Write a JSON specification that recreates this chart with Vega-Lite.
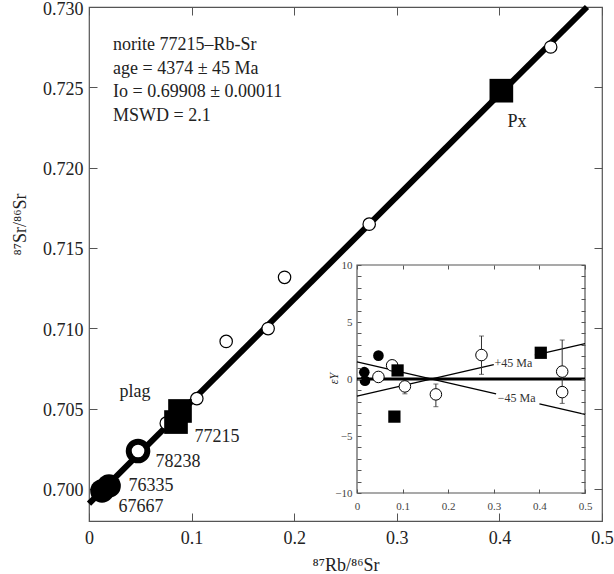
{
  "$schema": "https://vega.github.io/schema/vega-lite/v6.json",
  "width": 513,
  "height": 514,
  "autosize": {"type": "none"},
  "padding": {"left": 89, "top": 7, "right": 12, "bottom": 53},
  "background": "white",
  "config": {
    "view": {"stroke": "#555", "strokeWidth": 1.2},
    "axis": {"domain": false, "grid": false, "labelFlush": false, "tickColor": "#555", "labelFont": "Liberation Serif", "titleFont": "Liberation Serif", "titleFontWeight": "normal", "labelColor": "#222", "titleColor": "#222"},
    "text": {"font": "Liberation Serif"}
  },
  "datasets": {
    "iso": [{"x": 0, "y": 0.69908}, {"x": 0.4854, "y": 0.730}],
    "openMain": [{"x": 0.0753, "y": 0.70409}, {"x": 0.1051, "y": 0.70562}, {"x": 0.1337, "y": 0.70918}, {"x": 0.1746, "y": 0.70998}, {"x": 0.1906, "y": 0.71317}, {"x": 0.2731, "y": 0.71648}, {"x": 0.450, "y": 0.72751}],
    "ring": [{"x": 0.0478, "y": 0.70236}],
    "wr": [{"x": 0.0127, "y": 0.69987}, {"x": 0.0195, "y": 0.70018}],
    "squares": [{"x": 0.0848, "y": 0.70416}, {"x": 0.0887, "y": 0.70485}, {"x": 0.4019, "y": 0.72479}],
    "labels": [{"x": 0.0448, "y": 0.70603, "t": "plag"}, {"x": 0.1248, "y": 0.70323, "t": "77215"}, {"x": 0.0867, "y": 0.70167, "t": "78238"}, {"x": 0.0604, "y": 0.70018, "t": "76335"}, {"x": 0.0507, "y": 0.69887, "t": "67667"}, {"x": 0.4171, "y": 0.72281, "t": "Px"}],
    "info": [{"x": 0.0234, "y": 0.72763, "t": "norite 77215–Rb-Sr"}, {"x": 0.0234, "y": 0.72614, "t": "age = 4374 ± 45 Ma"}, {"x": 0.0234, "y": 0.72471, "t": "Io = 0.69908 ± 0.00011"}, {"x": 0.0234, "y": 0.72321, "t": "MSWD = 2.1"}],
    "frame": [{"x": 0, "x2": 0.5, "y": -10, "y2": 10}],
    "zero": [{"x": 0, "x2": 0.5, "y": 0}],
    "mlines": [{"seg": "p1", "x": 0, "y": -1.5}, {"seg": "p1", "x": 0.30, "y": 1.26}, {"seg": "p2", "x": 0.39, "y": 2.09}, {"seg": "p2", "x": 0.5, "y": 3.1}, {"seg": "m1", "x": 0, "y": 1.5}, {"seg": "m1", "x": 0.305, "y": -1.3}, {"seg": "m2", "x": 0.40, "y": -2.18}, {"seg": "m2", "x": 0.5, "y": -3.1}],
    "err": [{"x": 0.105, "lo": -1.3, "hi": -0.3}, {"x": 0.173, "lo": -2.43, "hi": -0.44}, {"x": 0.273, "lo": 0.41, "hi": 3.77}, {"x": 0.45, "lo": -2.14, "hi": 3.42}],
    "caps": [{"x": 0.105, "y": -1.3}, {"x": 0.105, "y": -0.3}, {"x": 0.173, "y": -2.43}, {"x": 0.173, "y": -0.44}, {"x": 0.273, "y": 0.41}, {"x": 0.273, "y": 3.77}, {"x": 0.45, "y": -2.14}, {"x": 0.45, "y": 3.42}],
    "inFilled": [{"x": 0.016, "y": 0.6}, {"x": 0.0175, "y": -0.15}, {"x": 0.047, "y": 2.05}],
    "inOpen": [{"x": 0.047, "y": 0.18}, {"x": 0.077, "y": 1.2}, {"x": 0.105, "y": -0.65}, {"x": 0.173, "y": -1.35}, {"x": 0.273, "y": 2.1}, {"x": 0.45, "y": 0.65}, {"x": 0.45, "y": -1.15}],
    "inSq": [{"x": 0.089, "y": 0.75}, {"x": 0.082, "y": -3.3}, {"x": 0.403, "y": 2.3}],
    "inText": [{"x": 0.343, "y": 1.43, "t": "+45 Ma"}, {"x": 0.350, "y": -1.64, "t": "−45 Ma"}]
  },
  "layer": [
    {
      "layer": [
        {
          "data": {"name": "iso"},
          "mark": {"type": "line", "color": "black", "strokeWidth": 6, "strokeCap": "butt"},
          "encoding": {
            "x": {"field": "x", "type": "quantitative", "scale": {"domain": [0, 0.5], "nice": false, "zero": false},
              "axis": {"orient": "bottom", "values": [0, 0.1, 0.2, 0.3, 0.4, 0.5], "labelExpr": "datum.value == 0 ? '0' : format(datum.value, '.1f')", "ticks": false, "tickSize": 0, "labelFontSize": 18, "labelPadding": 8, "title": "⁸⁷Rb/⁸⁶Sr", "titleFontSize": 18, "titleY": 44, "titleBaseline": "middle"}},
            "y": {"field": "y", "type": "quantitative", "scale": {"domain": [0.698, 0.730], "nice": false, "zero": false},
              "axis": {"orient": "left", "values": [0.700, 0.705, 0.710, 0.715, 0.720, 0.725, 0.730], "format": ".3f", "ticks": false, "tickSize": 0, "labelFontSize": 18, "labelPadding": 6, "labelOffset": 2, "title": "⁸⁷Sr/⁸⁶Sr", "titleFontSize": 18, "titleX": -69, "titleY": 217, "titleBaseline": "middle"}}
          }
        },
        {
          "data": {"name": "iso"},
          "mark": {"type": "point", "opacity": 0},
          "encoding": {
            "x": {"field": "x", "type": "quantitative", "scale": {"domain": [0, 0.5], "nice": false, "zero": false},
              "axis": {"orient": "top", "values": [0, 0.1, 0.2, 0.3, 0.4, 0.5], "labels": false, "tickSize": -8, "title": null}},
            "y": {"field": "y", "type": "quantitative", "scale": {"domain": [0.698, 0.730], "nice": false, "zero": false},
              "axis": {"orient": "right", "values": [0.700, 0.705, 0.710, 0.715, 0.720, 0.725, 0.730], "labels": false, "tickSize": -8, "title": null}}
          }
        },
        {
          "data": {"name": "iso"},
          "mark": {"type": "point", "opacity": 0},
          "encoding": {
            "x": {"field": "x", "type": "quantitative", "scale": {"domain": [0, 0.5], "nice": false, "zero": false},
              "axis": {"orient": "bottom", "values": [0, 0.1, 0.2, 0.3, 0.4, 0.5], "labels": false, "tickSize": -8, "title": null}},
            "y": {"field": "y", "type": "quantitative", "scale": {"domain": [0.698, 0.730], "nice": false, "zero": false},
              "axis": {"orient": "left", "values": [0.700, 0.705, 0.710, 0.715, 0.720, 0.725, 0.730], "labels": false, "tickSize": -8, "title": null}}
          }
        },
        {
          "data": {"name": "openMain"},
          "mark": {"type": "point", "shape": "circle", "filled": true, "fill": "white", "stroke": "black", "strokeWidth": 1.2, "size": 154, "opacity": 1},
          "encoding": {
            "x": {"field": "x", "type": "quantitative", "scale": {"domain": [0, 0.5], "nice": false, "zero": false}, "axis": null},
            "y": {"field": "y", "type": "quantitative", "scale": {"domain": [0.698, 0.730], "nice": false, "zero": false}, "axis": null}
          }
        },
        {
          "data": {"name": "ring"},
          "mark": {"type": "point", "shape": "circle", "filled": true, "fill": "white", "stroke": "black", "strokeWidth": 6, "size": 346, "opacity": 1},
          "encoding": {
            "x": {"field": "x", "type": "quantitative", "scale": {"domain": [0, 0.5], "nice": false, "zero": false}, "axis": null},
            "y": {"field": "y", "type": "quantitative", "scale": {"domain": [0.698, 0.730], "nice": false, "zero": false}, "axis": null}
          }
        },
        {
          "data": {"name": "wr"},
          "mark": {"type": "point", "shape": "circle", "filled": true, "color": "black", "size": 560, "opacity": 1},
          "encoding": {
            "x": {"field": "x", "type": "quantitative", "scale": {"domain": [0, 0.5], "nice": false, "zero": false}, "axis": null},
            "y": {"field": "y", "type": "quantitative", "scale": {"domain": [0.698, 0.730], "nice": false, "zero": false}, "axis": null}
          }
        },
        {
          "data": {"name": "squares"},
          "mark": {"type": "point", "shape": "square", "filled": true, "color": "black", "size": 560, "opacity": 1},
          "encoding": {
            "x": {"field": "x", "type": "quantitative", "scale": {"domain": [0, 0.5], "nice": false, "zero": false}, "axis": null},
            "y": {"field": "y", "type": "quantitative", "scale": {"domain": [0.698, 0.730], "nice": false, "zero": false}, "axis": null}
          }
        },
        {
          "data": {"name": "labels"},
          "mark": {"type": "text", "fontSize": 18, "color": "#222", "align": "center", "baseline": "middle"},
          "encoding": {
            "x": {"field": "x", "type": "quantitative", "scale": {"domain": [0, 0.5], "nice": false, "zero": false}, "axis": null},
            "y": {"field": "y", "type": "quantitative", "scale": {"domain": [0.698, 0.730], "nice": false, "zero": false}, "axis": null},
            "text": {"field": "t"}
          }
        },
        {
          "data": {"name": "info"},
          "mark": {"type": "text", "fontSize": 18, "color": "#222", "align": "left", "baseline": "middle"},
          "encoding": {
            "x": {"field": "x", "type": "quantitative", "scale": {"domain": [0, 0.5], "nice": false, "zero": false}, "axis": null},
            "y": {"field": "y", "type": "quantitative", "scale": {"domain": [0.698, 0.730], "nice": false, "zero": false}, "axis": null},
            "text": {"field": "t"}
          }
        }
      ],
      "resolve": {"axis": {"x": "independent", "y": "independent"}}
    },
    {
      "layer": [
        {
          "data": {"name": "frame"},
          "mark": {"type": "rect", "fill": "white", "stroke": "#555", "strokeWidth": 1.2},
          "encoding": {
            "x": {"field": "x", "type": "quantitative", "scale": {"domain": [0, 0.5], "range": [268, 496], "nice": false, "zero": false},
              "axis": {"orient": "bottom", "offset": -28, "values": [0, 0.1, 0.2, 0.3, 0.4, 0.5], "labelExpr": "datum.value == 0 ? '0' : format(datum.value, '.1f')", "ticks": false, "tickSize": 0, "labelFontSize": 11, "labelPadding": 7, "labelColor": "#444", "title": null, "zindex": 2}},
            "x2": {"field": "x2"},
            "y": {"field": "y", "type": "quantitative", "scale": {"domain": [-10, 10], "range": [486, 258], "nice": false, "zero": false},
              "axis": {"orient": "left", "offset": -268, "values": [-10, -5, 0, 5, 10], "ticks": false, "tickSize": 0, "labelFontSize": 11, "labelPadding": 5, "labelColor": "#444", "title": "εY", "titleFontSize": 12, "titleFontStyle": "italic", "titleX": -24, "titleY": 371, "titleBaseline": "middle", "zindex": 2}},
            "y2": {"field": "y2"}
          }
        },
        {
          "data": {"name": "frame"},
          "mark": {"type": "point", "opacity": 0},
          "encoding": {
            "x": {"field": "x", "type": "quantitative", "scale": {"domain": [0, 0.5], "range": [268, 496], "nice": false, "zero": false},
              "axis": {"orient": "top", "offset": -258, "values": [0, 0.1, 0.2, 0.3, 0.4, 0.5], "labels": false, "tickSize": -4, "title": null, "zindex": 2}},
            "y": {"field": "y", "type": "quantitative", "scale": {"domain": [-10, 10], "range": [486, 258], "nice": false, "zero": false},
              "axis": {"orient": "right", "offset": -17, "values": [-10, -9, -8, -7, -6, -5, -4, -3, -2, -1, 0, 1, 2, 3, 4, 5, 6, 7, 8, 9, 10], "labels": false, "tickSize": -4, "title": null, "zindex": 2}}
          }
        },
        {
          "data": {"name": "frame"},
          "mark": {"type": "point", "opacity": 0},
          "encoding": {
            "x": {"field": "x", "type": "quantitative", "scale": {"domain": [0, 0.5], "range": [268, 496], "nice": false, "zero": false},
              "axis": {"orient": "bottom", "offset": -28, "values": [0, 0.1, 0.2, 0.3, 0.4, 0.5], "labels": false, "tickSize": -4, "title": null, "zindex": 2}},
            "y": {"field": "y", "type": "quantitative", "scale": {"domain": [-10, 10], "range": [486, 258], "nice": false, "zero": false},
              "axis": {"orient": "left", "offset": -268, "values": [-10, -9, -8, -7, -6, -5, -4, -3, -2, -1, 0, 1, 2, 3, 4, 5, 6, 7, 8, 9, 10], "labels": false, "tickSize": -4, "title": null, "zindex": 2}}
          }
        },
        {
          "data": {"name": "zero"},
          "mark": {"type": "rule", "color": "black", "strokeWidth": 3},
          "encoding": {
            "x": {"field": "x", "type": "quantitative", "scale": {"domain": [0, 0.5], "range": [268, 496], "nice": false, "zero": false}, "axis": null},
            "x2": {"field": "x2"},
            "y": {"field": "y", "type": "quantitative", "scale": {"domain": [-10, 10], "range": [486, 258], "nice": false, "zero": false}, "axis": null}
          }
        },
        {
          "data": {"name": "mlines"},
          "mark": {"type": "line", "color": "black", "strokeWidth": 1.3},
          "encoding": {
            "x": {"field": "x", "type": "quantitative", "scale": {"domain": [0, 0.5], "range": [268, 496], "nice": false, "zero": false}, "axis": null},
            "y": {"field": "y", "type": "quantitative", "scale": {"domain": [-10, 10], "range": [486, 258], "nice": false, "zero": false}, "axis": null},
            "detail": {"field": "seg"}
          }
        },
        {
          "data": {"name": "err"},
          "mark": {"type": "rule", "color": "#333", "strokeWidth": 1},
          "encoding": {
            "x": {"field": "x", "type": "quantitative", "scale": {"domain": [0, 0.5], "range": [268, 496], "nice": false, "zero": false}, "axis": null},
            "y": {"field": "lo", "type": "quantitative", "scale": {"domain": [-10, 10], "range": [486, 258], "nice": false, "zero": false}, "axis": null},
            "y2": {"field": "hi"}
          }
        },
        {
          "data": {"name": "caps"},
          "mark": {"type": "tick", "orient": "horizontal", "color": "#333", "size": 5, "thickness": 1},
          "encoding": {
            "x": {"field": "x", "type": "quantitative", "scale": {"domain": [0, 0.5], "range": [268, 496], "nice": false, "zero": false}, "axis": null},
            "y": {"field": "y", "type": "quantitative", "scale": {"domain": [-10, 10], "range": [486, 258], "nice": false, "zero": false}, "axis": null}
          }
        },
        {
          "data": {"name": "inOpen"},
          "mark": {"type": "point", "shape": "circle", "filled": true, "fill": "white", "stroke": "black", "strokeWidth": 1, "size": 133, "opacity": 1},
          "encoding": {
            "x": {"field": "x", "type": "quantitative", "scale": {"domain": [0, 0.5], "range": [268, 496], "nice": false, "zero": false}, "axis": null},
            "y": {"field": "y", "type": "quantitative", "scale": {"domain": [-10, 10], "range": [486, 258], "nice": false, "zero": false}, "axis": null}
          }
        },
        {
          "data": {"name": "inFilled"},
          "mark": {"type": "point", "shape": "circle", "filled": true, "color": "black", "size": 113, "opacity": 1},
          "encoding": {
            "x": {"field": "x", "type": "quantitative", "scale": {"domain": [0, 0.5], "range": [268, 496], "nice": false, "zero": false}, "axis": null},
            "y": {"field": "y", "type": "quantitative", "scale": {"domain": [-10, 10], "range": [486, 258], "nice": false, "zero": false}, "axis": null}
          }
        },
        {
          "data": {"name": "inSq"},
          "mark": {"type": "point", "shape": "square", "filled": true, "color": "black", "size": 150, "opacity": 1},
          "encoding": {
            "x": {"field": "x", "type": "quantitative", "scale": {"domain": [0, 0.5], "range": [268, 496], "nice": false, "zero": false}, "axis": null},
            "y": {"field": "y", "type": "quantitative", "scale": {"domain": [-10, 10], "range": [486, 258], "nice": false, "zero": false}, "axis": null}
          }
        },
        {
          "data": {"name": "inText"},
          "mark": {"type": "text", "fontSize": 12, "color": "#333", "align": "center", "baseline": "middle"},
          "encoding": {
            "x": {"field": "x", "type": "quantitative", "scale": {"domain": [0, 0.5], "range": [268, 496], "nice": false, "zero": false}, "axis": null},
            "y": {"field": "y", "type": "quantitative", "scale": {"domain": [-10, 10], "range": [486, 258], "nice": false, "zero": false}, "axis": null},
            "text": {"field": "t"}
          }
        }
      ],
      "resolve": {"axis": {"x": "independent", "y": "independent"}}
    }
  ],
  "resolve": {"scale": {"x": "independent", "y": "independent"}, "axis": {"x": "independent", "y": "independent"}}
}
